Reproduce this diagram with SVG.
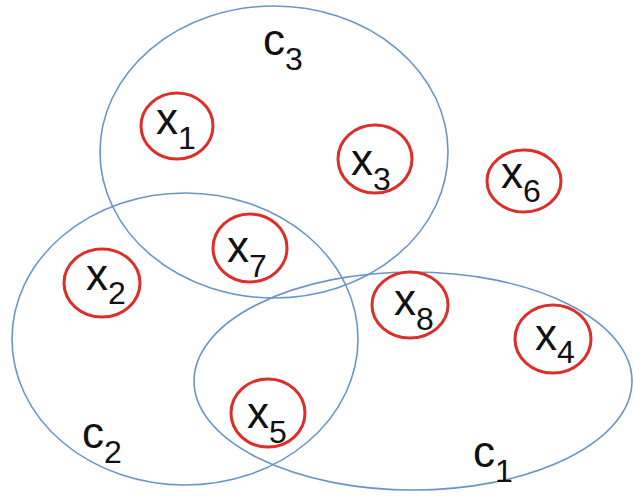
<svg xmlns="http://www.w3.org/2000/svg" width="633" height="496" viewBox="0 0 633 496">
<style>
.set{fill:none;stroke:#6b96c4;stroke-width:1.6}
.pt{fill:#fff;stroke:#dc2f2a;stroke-width:3}
text{font-family:"Liberation Sans",Arial,sans-serif;font-size:44px;fill:#111}
.s{font-size:32px}
</style>
<rect width="633" height="496" fill="#fff"/>
<g id="sets">
<g id="c3"><ellipse class="set" cx="274" cy="152" rx="174" ry="146"/><text x="263" y="55">c<tspan class="s" dy="15">3</tspan></text></g>
<g id="c2"><ellipse class="set" cx="185" cy="339" rx="173" ry="146"/><text x="82" y="448">c<tspan class="s" dy="15">2</tspan></text></g>
<g id="c1"><ellipse class="set" cx="413" cy="381" rx="219" ry="109"/><text x="473" y="467">c<tspan class="s" dy="15">1</tspan></text></g>
</g>
<g id="x1"><ellipse class="pt" cx="177" cy="126" rx="36" ry="33"/><text x="156" y="134">x<tspan class="s" dy="15">1</tspan></text></g>
<g id="x3"><ellipse class="pt" cx="375" cy="159" rx="37" ry="34"/><text x="351" y="175">x<tspan class="s" dy="15">3</tspan></text></g>
<g id="x7"><ellipse class="pt" cx="250" cy="248" rx="37" ry="34"/><text x="227" y="262">x<tspan class="s" dy="15">7</tspan></text></g>
<g id="x2"><ellipse class="pt" cx="102" cy="283" rx="38" ry="34"/><text x="86" y="290">x<tspan class="s" dy="14">2</tspan></text></g>
<g id="x5"><ellipse class="pt" cx="268" cy="413" rx="37" ry="34"/><text x="247" y="428">x<tspan class="s" dy="15">5</tspan></text></g>
<g id="x8"><ellipse class="pt" cx="410" cy="305" rx="38" ry="33"/><text x="394" y="315">x<tspan class="s" dy="15">8</tspan></text></g>
<g id="x4"><ellipse class="pt" cx="553" cy="339" rx="38" ry="34"/><text x="535" y="350">x<tspan class="s" dy="13">4</tspan></text></g>
<g id="x6"><ellipse class="pt" cx="524" cy="181" rx="37" ry="31"/><text x="501" y="188">x<tspan class="s" dy="14">6</tspan></text></g>
<g id="connectors"/>
</svg>
